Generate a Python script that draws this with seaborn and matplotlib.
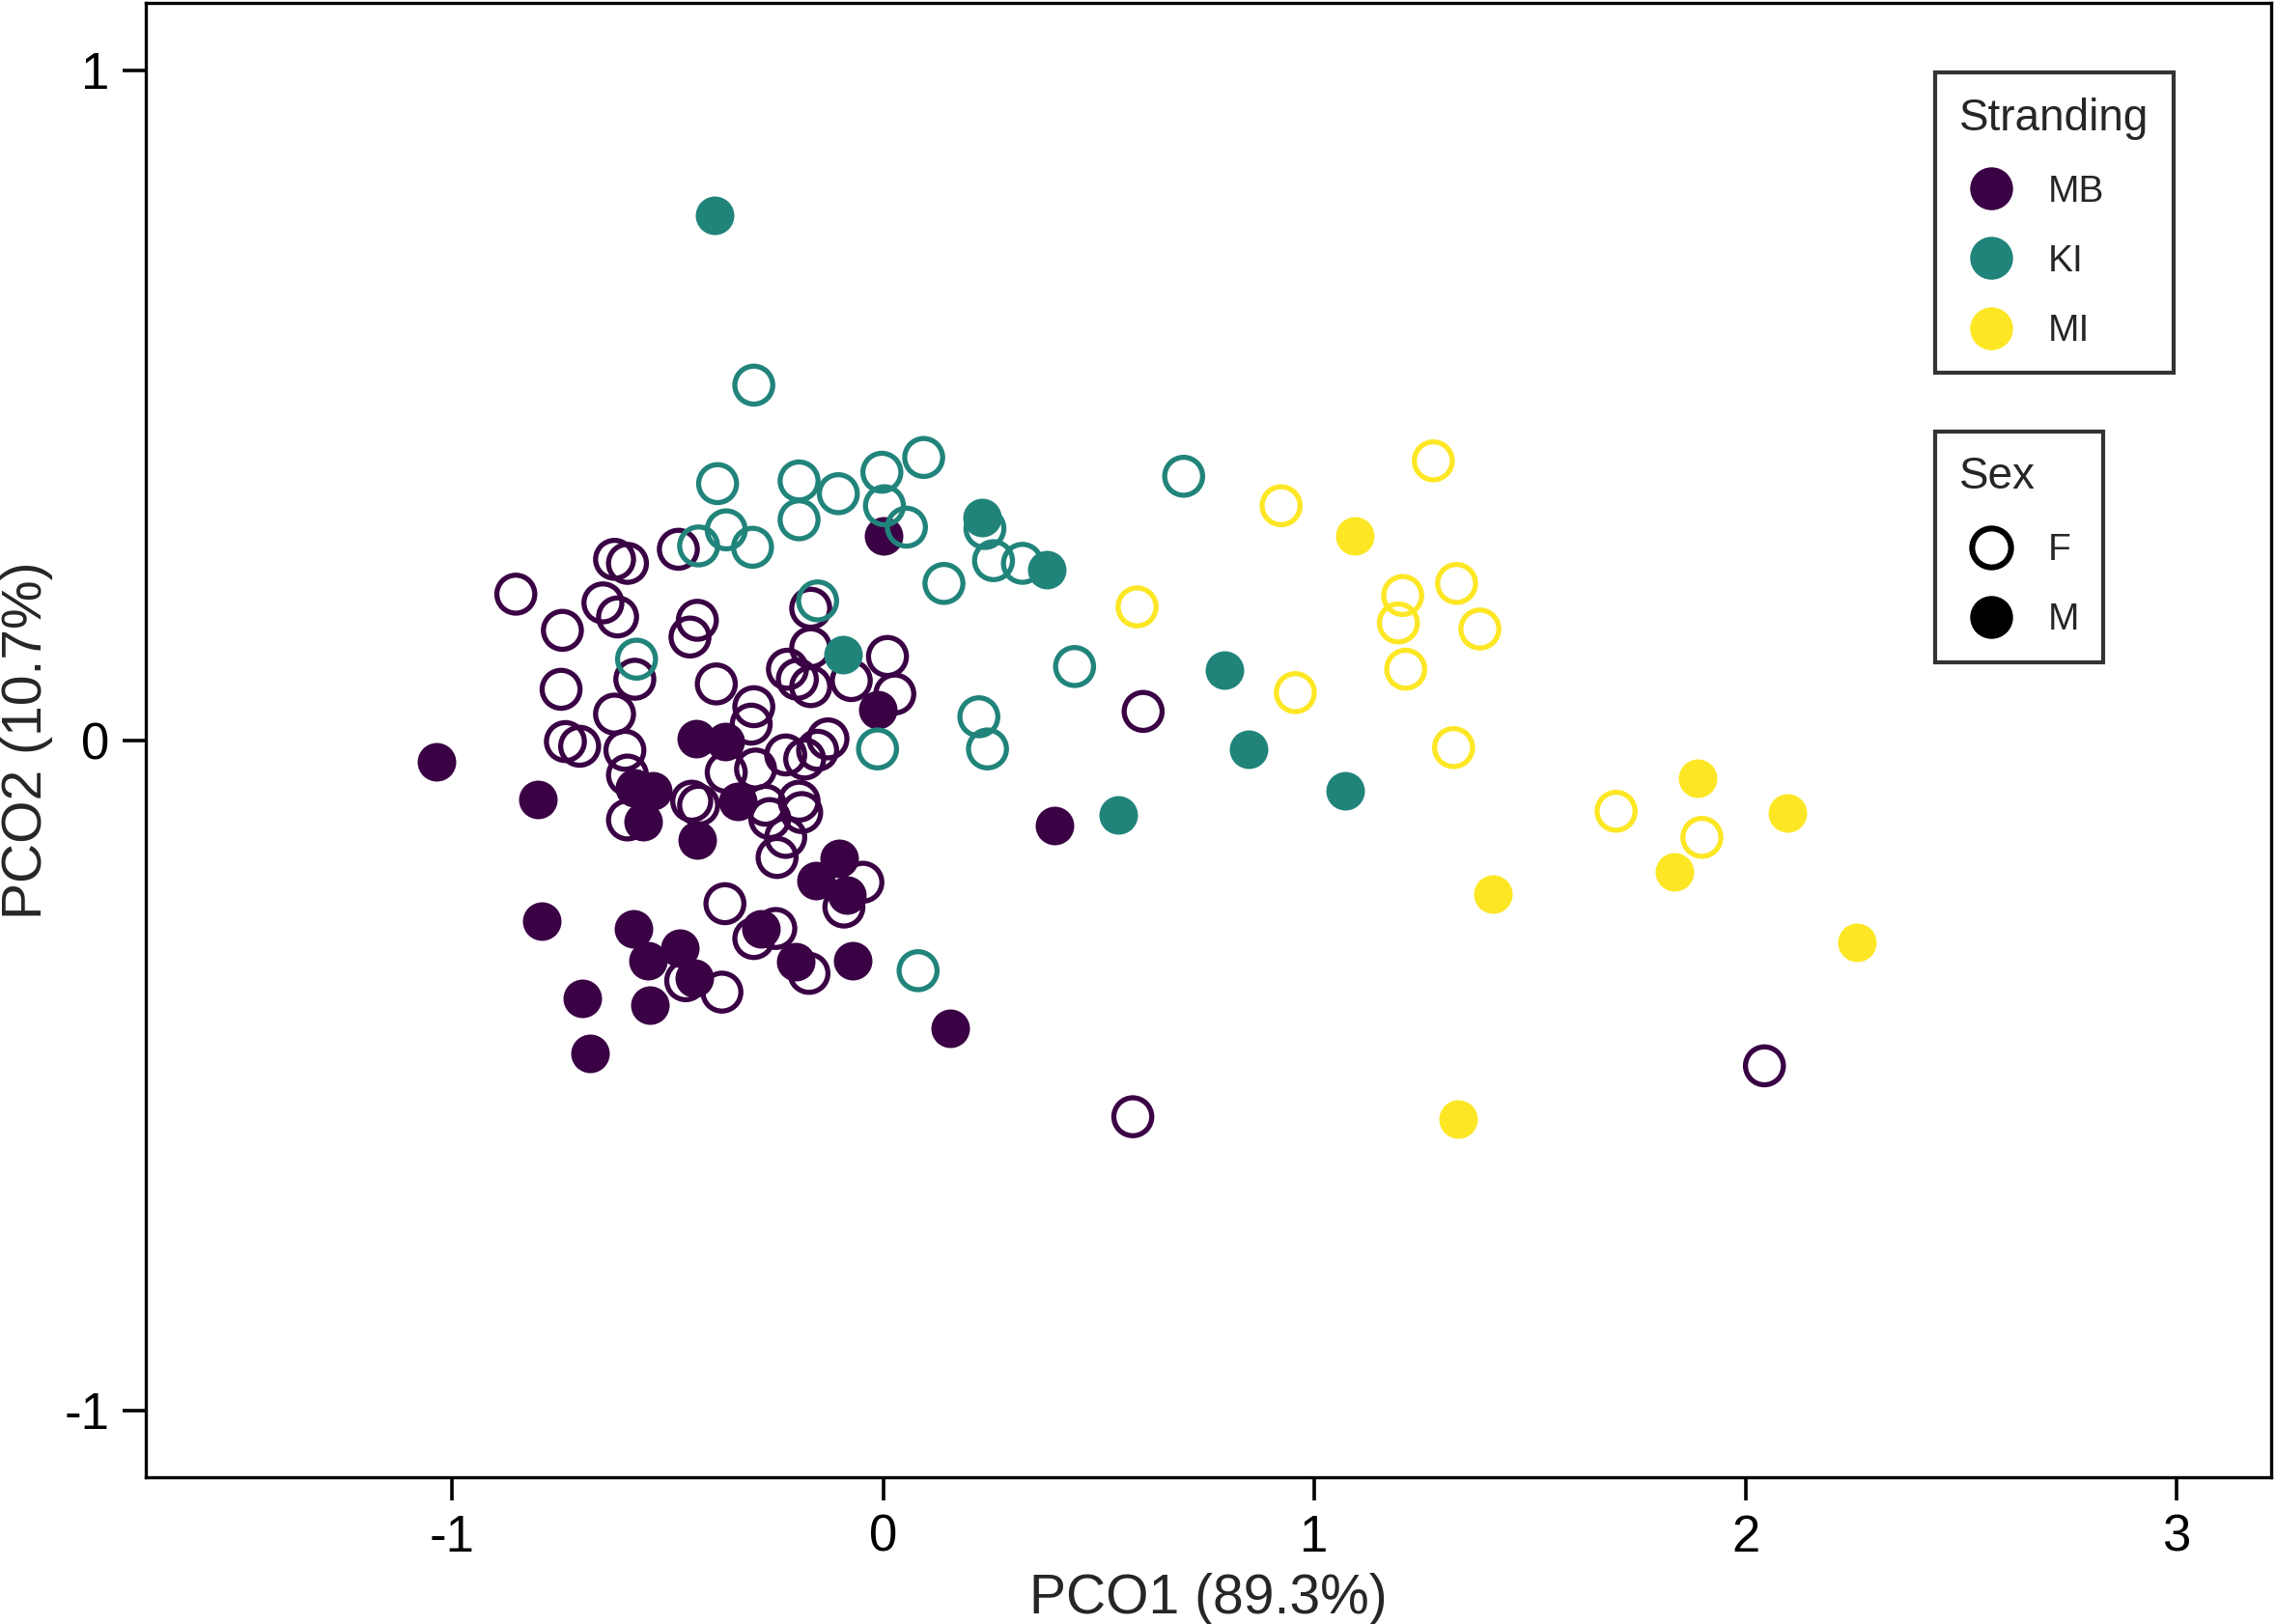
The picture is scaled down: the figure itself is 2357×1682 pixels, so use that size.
"""
PCO ordination of the stranding samples, coloured by stranding, open/filled by sex
"""

import pandas as pd
import matplotlib
matplotlib.use("Agg")
import matplotlib.pyplot as plt
import seaborn as sns
from matplotlib.lines import Line2D

# stranding groups and colours (viridis, 3 levels)
strandings = ["MB", "KI", "MI"]
pal = {"MB": "#3a0244", "KI": "#21847b", "MI": "#fde725"}
sexes = ["F", "M"]

# MB, female (open)
mb_f_x = [-0.852, -0.744, -0.650, -0.616, -0.623, -0.593, -0.475, -0.431, -0.448,
          -0.747, -0.576, -0.623, -0.737, -0.704, -0.599, -0.593, -0.593, -0.387,
          -0.300, -0.306, -0.364, -0.296, -0.226, -0.182, -0.152, -0.128, -0.168,
          -0.168, -0.222, -0.199, -0.168, -0.074, 0.010, 0.027, -0.444, -0.428,
          -0.273, -0.263, -0.226, -0.195, -0.189, -0.246, -0.047, -0.091, -0.367,
          -0.300, -0.249, -0.172, -0.458, -0.374, 0.603, 0.579, 2.044]
mb_f_y = [0.218, 0.164, 0.205, 0.184, 0.270, 0.264, 0.285, 0.179, 0.154,
          0.076, 0.091, 0.039, -0.002, -0.009, -0.015, -0.052, -0.119, 0.084,
          0.050, 0.024, -0.048, -0.043, -0.022, -0.028, -0.015, 0.002, 0.197,
          0.138, 0.106, 0.091, 0.080, 0.089, 0.125, 0.069, -0.091, -0.097,
          -0.097, -0.117, -0.145, -0.091, -0.108, -0.175, -0.212, -0.249, -0.244,
          -0.296, -0.281, -0.348, -0.359, -0.376, 0.043, -0.562, -0.486]

# MB, male (filled)
mb_m_x = [-1.037, -0.801, -0.791, -0.697, -0.680, -0.579, -0.545, -0.471, -0.438,
          -0.542, -0.576, -0.535, -0.556, -0.431, -0.337, -0.434, -0.367, -0.101,
          -0.155, -0.084, -0.283, -0.202, -0.071, 0.000, -0.013, 0.155, 0.397]
mb_m_y = [-0.032, -0.089, -0.270, -0.385, -0.467, -0.281, -0.329, -0.311, -0.355,
          -0.396, -0.071, -0.076, -0.121, -0.149, -0.091, 0.002, -0.002, -0.177,
          -0.210, -0.231, -0.281, -0.331, -0.329, 0.305, 0.045, -0.430, -0.128]

# KI, female (open)
ki_f_x = [-0.300, -0.384, -0.364, -0.428, -0.303, -0.195, -0.195, -0.104, -0.003,
          0.003, 0.054, 0.094, -0.152, -0.572, -0.013, 0.081, 0.236, 0.256,
          0.141, 0.323, 0.222, 0.242, 0.444, 0.697]
ki_f_y = [0.530, 0.383, 0.314, 0.290, 0.288, 0.387, 0.329, 0.368, 0.400,
          0.350, 0.318, 0.422, 0.208, 0.121, -0.013, -0.344, 0.316, 0.268,
          0.234, 0.264, 0.035, -0.013, 0.110, 0.394]

# KI, male (filled)
ki_m_x = [-0.391, 0.229, 0.380, -0.094, 0.791, 0.848, 1.071, 0.545]
ki_m_y = [0.783, 0.333, 0.255, 0.128, 0.104, -0.013, -0.076, -0.112]

# MI, female (open)
mi_f_x = [1.276, 0.923, 0.589, 0.956, 1.205, 1.195, 1.212, 1.330, 1.384,
          1.323, 1.700, 1.899]
mi_f_y = [0.417, 0.350, 0.199, 0.071, 0.216, 0.175, 0.106, 0.234, 0.166,
          -0.011, -0.106, -0.145]

# MI, male (filled)
mi_m_x = [1.094, 1.889, 2.098, 1.835, 1.414, 2.259, 1.333]
mi_m_y = [0.305, -0.056, -0.108, -0.197, -0.229, -0.301, -0.566]

x_ticks = [-1, 0, 1, 2, 3]
y_ticks = [-1, 0, 1]


def make_frame():
    parts = []
    groups = [("MB", "F", mb_f_x, mb_f_y), ("MB", "M", mb_m_x, mb_m_y),
              ("KI", "F", ki_f_x, ki_f_y), ("KI", "M", ki_m_x, ki_m_y),
              ("MI", "F", mi_f_x, mi_f_y), ("MI", "M", mi_m_x, mi_m_y)]
    for strand, sex, xs, ys in groups:
        parts.append(pd.DataFrame({"PCO1": xs, "PCO2": ys,
                                   "Stranding": strand, "Sex": sex}))
    return pd.concat(parts, ignore_index=True)


def add_legends(ax):
    leg_kw = dict(loc="upper left", borderaxespad=0, frameon=True, fancybox=False,
                  edgecolor="black", fontsize=14, title_fontsize=16.5,
                  alignment="left", labelspacing=0.93, handletextpad=0.68,
                  borderpad=0.65, handlelength=1.67)

    h1 = [Line2D([0], [0], marker="o", ls="", markersize=16, color=pal[s],
                 markeredgewidth=0) for s in strandings]
    leg1 = ax.legend(h1, strandings, title="Stranding",
                     bbox_to_anchor=(0.8417, 0.9528), **leg_kw)
    leg1.get_frame().set_linewidth(1.5)
    ax.add_artist(leg1)

    h2 = [Line2D([0], [0], marker="o", ls="", markersize=14.5,
                 markerfacecolor="none", markeredgecolor="black", markeredgewidth=2.2),
          Line2D([0], [0], marker="o", ls="", markersize=16, color="black",
                 markeredgewidth=0)]
    leg2 = ax.legend(h2, sexes, title="Sex",
                     bbox_to_anchor=(0.8417, 0.7096), **leg_kw)
    leg2.get_frame().set_linewidth(1.5)


def main():
    df = make_frame()

    sns.set_style("ticks")
    plt.rcParams["font.family"] = ["Liberation Sans", "DejaVu Sans"]

    fig = plt.figure(figsize=(2357 / 200, 1682 / 200), dpi=200)
    ax = fig.add_axes([0.0641, 0.0904, 0.9339, 0.9076])

    # draw group by group; open (F) first, filled (M) on top
    for strand in strandings:
        c = pal[strand]
        sub_f = df[(df.Stranding == strand) & (df.Sex == "F")]
        sub_m = df[(df.Stranding == strand) & (df.Sex == "M")]
        sns.scatterplot(data=sub_f, x="PCO1", y="PCO2", ax=ax, s=200,
                        color=c, facecolor="none", edgecolor=c, linewidth=1.9,
                        legend=False, zorder=3)
        sns.scatterplot(data=sub_m, x="PCO1", y="PCO2", ax=ax, s=207,
                        color=c, linewidth=0, legend=False, zorder=3)

    ax.set_xlim(-1.71, 3.22)
    ax.set_ylim(-1.1, 1.1)
    ax.set_xticks(x_ticks)
    ax.set_yticks(y_ticks)
    ax.set_xticklabels([str(t) for t in x_ticks])
    ax.set_yticklabels([str(t) for t in y_ticks])
    ax.tick_params(length=8.6, width=1.3, pad=5, labelsize=19, color="black",
                   labelcolor="black")
    for sp in ax.spines.values():
        sp.set_linewidth(1.2)
        sp.set_color("black")
    ax.set_xlabel("PCO1 (89.3%)", fontsize=20.5, labelpad=4)
    ax.set_ylabel("PCO2 (10.7%)", fontsize=20.5, labelpad=4)

    add_legends(ax)

    fig.savefig("out.png", dpi=200)


if __name__ == "__main__":
    main()
